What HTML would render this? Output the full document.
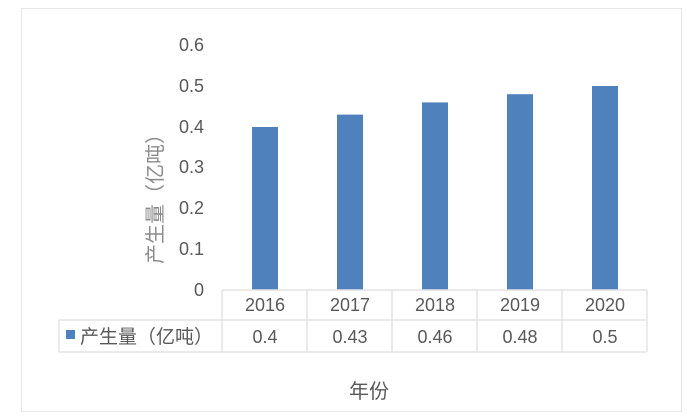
<!DOCTYPE html>
<html><head><meta charset="utf-8"><style>
body{margin:0;width:687px;height:419px;background:#fff;overflow:hidden;font-family:"Liberation Sans","Noto Sans CJK SC",sans-serif;color:#595959}
.a{position:absolute}
</style></head><body>
<div class="a" style="left:21px;top:8px;width:659px;height:402px;border:1px solid #e6e6e6"></div>
<svg class="a" style="left:0;top:0" width="687" height="419">
<g font-size="18" fill="#595959" text-anchor="end" font-family="Liberation Sans Narrow, Liberation Sans, sans-serif">
<text x="204" y="296">0</text>
<text x="204" y="255">0.1</text>
<text x="204" y="214">0.2</text>
<text x="204" y="173">0.3</text>
<text x="204" y="133">0.4</text>
<text x="204" y="92">0.5</text>
<text x="204" y="51">0.6</text>
</g>
<g fill="#4f81bd">
<rect x="252" y="127" width="26" height="163"/>
<rect x="337" y="114.6" width="26" height="175.4"/>
<rect x="422" y="102.4" width="26" height="187.6"/>
<rect x="507" y="94.2" width="26" height="195.8"/>
<rect x="592" y="86" width="26" height="204"/>
</g>
<g stroke="#e3e3e3" stroke-width="1.5" fill="none">
<line x1="222" y1="290" x2="647" y2="290"/>
<line x1="59" y1="320" x2="647" y2="320"/>
<line x1="59" y1="352" x2="647" y2="352"/>
<line x1="59" y1="320" x2="59" y2="352"/>
<line x1="222" y1="290" x2="222" y2="352"/>
<line x1="307" y1="290" x2="307" y2="352"/>
<line x1="392" y1="290" x2="392" y2="352"/>
<line x1="477" y1="290" x2="477" y2="352"/>
<line x1="562" y1="290" x2="562" y2="352"/>
<line x1="647" y1="290" x2="647" y2="352"/>
</g>
<g font-size="18" fill="#595959" text-anchor="middle" font-family="Liberation Sans Narrow, Liberation Sans, sans-serif">
<text x="265" y="311">2016</text>
<text x="350" y="311">2017</text>
<text x="435" y="311">2018</text>
<text x="520" y="311">2019</text>
<text x="605" y="311">2020</text>
<text x="265" y="343">0.4</text>
<text x="350" y="343">0.43</text>
<text x="435" y="343">0.46</text>
<text x="520" y="343">0.48</text>
<text x="605" y="343">0.5</text>
</g>
<rect x="66" y="330" width="9" height="9" fill="#4f81bd"/>
<text x="80" y="343" font-size="19" fill="#595959" font-family="Noto Sans CJK SC, sans-serif">产生量（亿吨）</text>
<text x="369" y="398" font-size="20" fill="#595959" text-anchor="middle" font-family="Noto Sans CJK SC, sans-serif">年份</text>
<text transform="translate(162,194) rotate(-90)" font-size="20" fill="#8a8a8a" text-anchor="middle" font-family="Noto Sans CJK SC, sans-serif">产生量（亿吨）</text>
</svg>
</body></html>
